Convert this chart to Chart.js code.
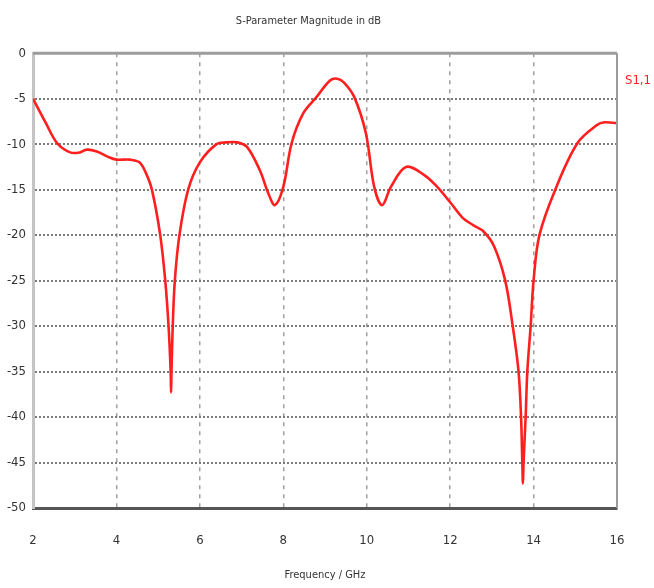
<!DOCTYPE html>
<html>
<head>
<meta charset="utf-8">
<title>S-Parameter Magnitude in dB</title>
<script src="https://cdn.jsdelivr.net/npm/chart.js@4.4.1/dist/chart.umd.min.js"></script>
<style>
  html, body { margin: 0; padding: 0; background: #fff; }
  canvas { display: block; }
</style>
</head>
<body>
<canvas id="grafico" width="654" height="588"></canvas>
<script>
// === DADOS === //
const tituloGrafico = 'S-Parameter Magnitude in dB';
const tituloEixoX = 'Frequency / GHz';
const nomeSerie = 'S1,1';
const xTicks = [2, 4, 6, 8, 10, 12, 14, 16];
const yTicks = [0, -5, -10, -15, -20, -25, -30, -35, -40, -45, -50];

const freqGHz = [
  2.0, 2.3, 2.58, 2.89, 3.13, 3.29, 3.53, 3.8, 4.0, 4.33, 4.55, 4.7, 4.85, 5.05,
  5.17, 5.25, 5.30, 5.31, 5.32, 5.35, 5.40, 5.51, 5.72, 6.0, 6.4, 6.64, 6.89,
  7.13, 7.44, 7.64, 7.8, 8.0, 8.2, 8.48, 8.8, 9.12, 9.29, 9.45, 9.7, 9.98,
  10.18, 10.37, 10.58, 10.94, 11.38, 11.69, 12.02, 12.3, 12.55, 12.8, 13.05,
  13.32, 13.5, 13.64, 13.7, 13.73, 13.745, 13.76, 13.81, 13.85, 13.93, 14.0,
  14.14, 14.52, 15.05, 15.52, 15.7, 16.0
];
const s11dB = [
  -5.0, -7.6, -9.9, -10.9, -10.9, -10.6, -10.8, -11.4, -11.7, -11.7, -12.0, -13.1, -15.0, -20.0,
  -25.0, -30.0, -35.0, -37.3, -35.0, -30.0, -25.0, -20.0, -15.0, -12.0, -10.0, -9.8, -9.8,
  -10.3, -12.9, -15.4, -16.7, -14.7, -9.9, -6.6, -4.8, -3.0, -2.8, -3.2, -4.8, -8.8,
  -14.7, -16.7, -14.7, -12.5, -13.4, -14.7, -16.5, -18.1, -18.9, -19.6, -21.2,
  -25.0, -30.0, -35.0, -40.0, -45.0, -47.3, -45.0, -40.0, -35.0, -30.0, -25.0,
  -20.0, -15.0, -9.9, -7.9, -7.6, -7.7
];

const fonte = "'Liberation Sans Narrow', 'DejaVu Sans Condensed', sans-serif";
const corCurva = '#ff1f1f';

// moldura superior/direita e rótulo da série
const moldura = {
  id: 'moldura',
  afterDraw(chart) {
    const { ctx, chartArea: a } = chart;
    ctx.save();
    ctx.strokeStyle = '#9c9c9c';
    ctx.lineWidth = 3;
    ctx.beginPath();
    ctx.moveTo(a.left, a.top);
    ctx.lineTo(a.right, a.top);
    ctx.stroke();
    ctx.lineWidth = 2;
    ctx.beginPath();
    ctx.moveTo(a.right, a.top);
    ctx.lineTo(a.right, a.bottom);
    ctx.stroke();
    ctx.fillStyle = corCurva;
    ctx.font = '13px ' + fonte;
    ctx.textAlign = 'left';
    ctx.textBaseline = 'middle';
    ctx.fillText(chart.data.datasets[0].label, a.right + 8, a.top + 27);
    ctx.restore();
  }
};

function desenharGrafico() {
  const ctx = document.getElementById('grafico').getContext('2d');
  new Chart(ctx, {
    type: 'line',
    data: {
      datasets: [{
        label: nomeSerie,
        data: freqGHz.map((f, i) => ({ x: f, y: s11dB[i] })),
        borderColor: corCurva,
        borderWidth: 2.6,
        pointRadius: 0,
        tension: 0.35,
        fill: false
      }]
    },
    options: {
      responsive: false,
      animation: false,
      layout: { padding: { left: 0, right: 37, top: 0, bottom: 0 } },
      plugins: {
        legend: { display: false },
        tooltip: { enabled: false },
        title: {
          display: true,
          text: tituloGrafico,
          color: '#333',
          font: { family: fonte, size: 11, weight: 'normal' },
          padding: { top: 15, bottom: 25 }
        }
      },
      scales: {
        x: {
          type: 'linear',
          min: xTicks[0],
          max: xTicks[xTicks.length - 1],
          afterBuildTicks: s => { s.ticks = xTicks.map(v => ({ value: v })); },
          afterFit: s => { s.height = 80; },
          ticks: { color: '#333', padding: 25, font: { family: fonte, size: 13 } },
          grid: { color: '#a0a0a0', lineWidth: 1.5, drawTicks: false },
          border: { color: '#555', width: 3, dash: [4, 5] },
          title: {
            display: true,
            text: tituloEixoX,
            color: '#333',
            font: { family: fonte, size: 11 },
            padding: { top: 0, bottom: 6 }
          }
        },
        y: {
          min: yTicks[yTicks.length - 1],
          max: yTicks[0],
          afterBuildTicks: s => { s.ticks = yTicks.map(v => ({ value: v })); },
          afterFit: s => { s.width = 33; },
          ticks: { color: '#333', padding: 7, font: { family: fonte, size: 13 } },
          grid: { color: '#7a7a7a', lineWidth: 2, drawTicks: false },
          border: { color: '#c4c4c4', width: 3, dash: [2, 2] }
        }
      }
    },
    plugins: [moldura]
  });
}

document.addEventListener('DOMContentLoaded', desenharGrafico);
</script>
</body>
</html>
